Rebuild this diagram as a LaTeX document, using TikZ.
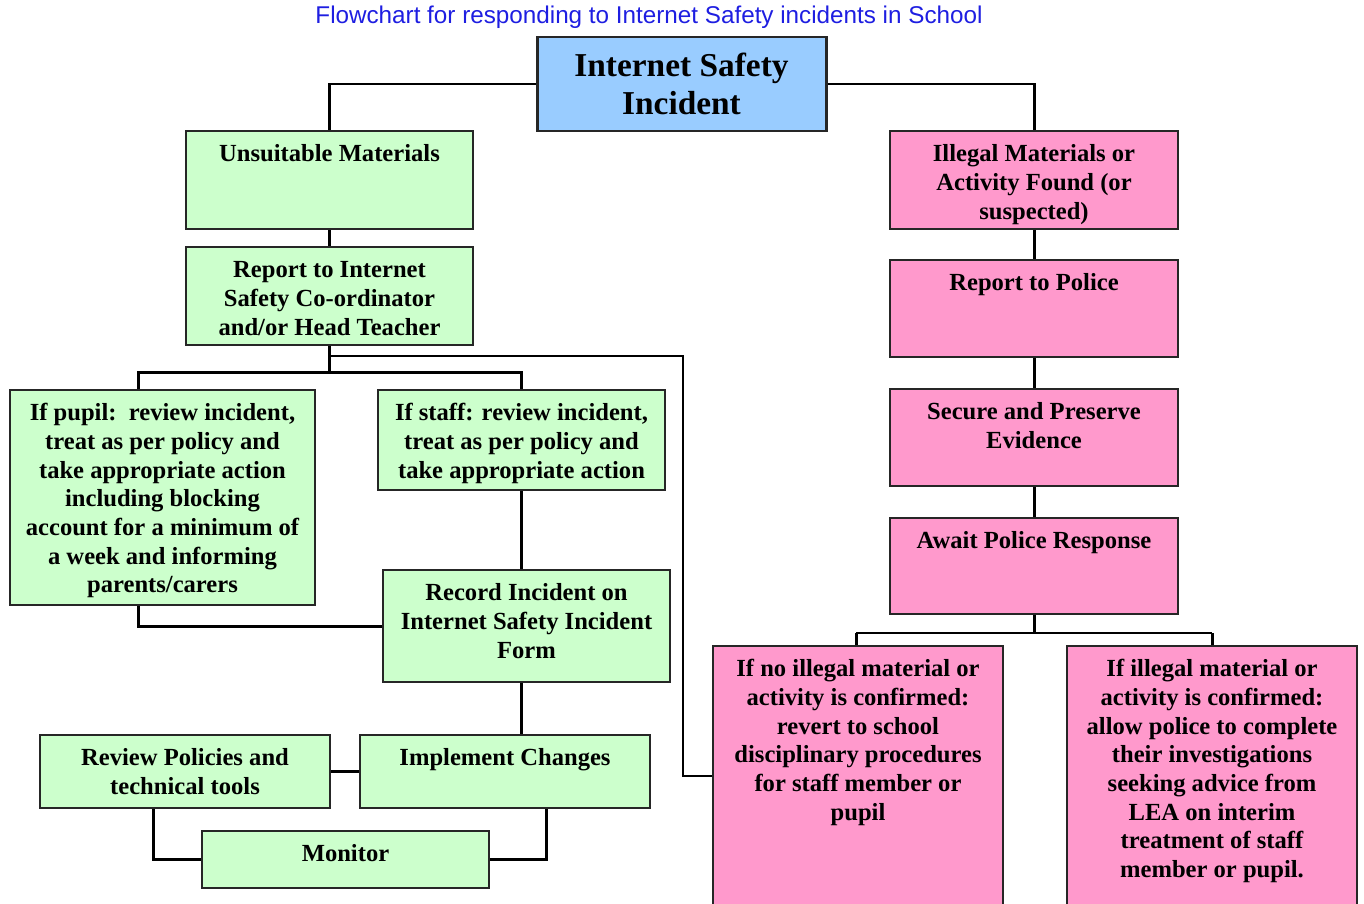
\documentclass[tikz,border=0pt]{standalone}
\usepackage{fontspec}
\setmainfont{Liberation Serif}
\newfontfamily\titlefont{Liberation Sans}
\usetikzlibrary{calc}

\definecolor{boxgreen}{RGB}{204,255,204}
\definecolor{boxpink}{RGB}{255,153,204}
\definecolor{boxblue}{RGB}{153,204,255}
\definecolor{titleblue}{RGB}{30,30,225}

\newlength{\px}
\setlength{\px}{0.02cm}
% box text, set at the top of a box of given size (in px)
\newcommand{\cell}[3]{\parbox[c][#2\px][t]{#1\px}{\centering\rule{0pt}{17.6pt}#3}}

\tikzset{
  box/.style={draw=black!85, line width=1.4pt, inner sep=0pt,
    font=\bfseries\fontsize{14}{16.3}\selectfont},
  gbox/.style={box, fill=boxgreen},
  pbox/.style={box, fill=boxpink},
  link/.style={line width=1.7pt},
  thinlink/.style={line width=1.3pt},
}

\begin{document}
\begin{tikzpicture}[x=0.02cm, y=-0.02cm]
      \useasboundingbox (0,0) rectangle (1364,903);

      \node[font=\titlefont\fontsize{13.8}{16}\selectfont, text=titleblue] (title) at (649,17) {Flowchart for responding to Internet Safety incidents in School};

      \node[box, fill=boxblue, line width=1.7pt, font=\bfseries\fontsize{19}{21.3}\selectfont] (incident) at (681.5,84)
        {\parbox[c][94\px][c]{289\px}{\centering Internet Safety\\ Incident}};

      % left branch
      \node[gbox] (unsuit) at (329.5,180) {\cell{287}{98}{Unsuitable Materials}};
      \node[gbox] (report) at (329.5,296) {\cell{287}{98}{Report to Internet\\ Safety Co-ordinator\\ and/or Head Teacher}};
      \node[gbox] (pupil) at (162.5,497.5) {\cell{305}{215}{If pupil:\ \ review incident,\\ treat as per policy and\\ take appropriate action\\ including blocking\\ account for a minimum of\\ a week and informing\\ parents/carers}};
      \node[gbox] (staff) at (521.5,440) {\cell{287}{100}{If staff: review incident,\\ treat as per policy and\\ take appropriate action}};
      \node[gbox] (record) at (526.5,626) {\cell{287}{112}{Record Incident on\\ Internet Safety Incident\\ Form}};
      \node[gbox] (implem) at (505,771.5) {\cell{290}{73}{Implement Changes}};
      \node[gbox] (review) at (185,771.5) {\cell{290}{73}{Review Policies and\\ technical tools}};
      \node[gbox] (monitor) at (345.5,859.5) {\cell{287}{57}{Monitor}};

      % right branch
      \node[pbox] (illegal) at (1034,180) {\cell{288}{98}{Illegal Materials or\\ Activity Found (or\\ suspected)}};
      \node[pbox] (police) at (1034,308.5) {\cell{288}{97}{Report to Police}};
      \node[pbox] (secure) at (1034,437.5) {\cell{288}{97}{Secure and Preserve\\ Evidence}};
      \node[pbox] (await) at (1034,566) {\cell{288}{96}{Await Police Response}};
      \node[pbox] (noill) at (858,776) {\cell{290}{260}{If no illegal material or\\ activity is confirmed:\\ revert to school\\ disciplinary procedures\\ for staff member or\\ pupil}};
      \node[pbox] (yesill) at (1212,776) {\cell{290}{260}{If illegal material or\\ activity is confirmed:\\ allow police to complete\\ their investigations\\ seeking advice from\\ LEA on interim\\ treatment of staff\\ member or pupil.}};

      \coordinate (fork) at (329.5,372);
      \coordinate (split) at (683,356);
      \coordinate (fork2) at (1034,633);

      \draw[link] (incident.west) -| (unsuit.north);
      \draw[link] (incident.east) -| (illegal.north);
      \draw[link] (unsuit) -- (report);
      \draw[link] (report.south) -- (fork);
      \draw[link] ([xshift=2.6cm]pupil.north west) |- (fork) -| (staff.north);
      \draw[thinlink] (report.south |- split) -- (split) |- (noill.west);
      \draw[thinlink] (staff.south) -- (staff.south |- record.north);
      \draw[link] ([xshift=2.6cm]pupil.south west) |- (record.west);
      \draw[thinlink] (staff.south |- record.south) -- (staff.south |- implem.north);
      \draw[link] (review.east) -- (implem.west);
      \draw[link] ([xshift=2.3cm]review.south west) |- (monitor.west);
      \draw[link] ([xshift=3.76cm]implem.south west) |- (monitor.east);

      \draw[link] (illegal) -- (police) -- (secure) -- (await);
      \draw[link] (await.south) -- (fork2);
      \draw[thinlink] ([xshift=-0.04cm]noill.north |- fork2) -- (yesill.north |- fork2);
      \draw[link] ([xshift=-0.04cm]noill.north) -- ([xshift=-0.04cm]noill.north |- fork2);
      \draw[link] (yesill.north) -- (yesill.north |- fork2);
    \end{tikzpicture}
\end{document}
